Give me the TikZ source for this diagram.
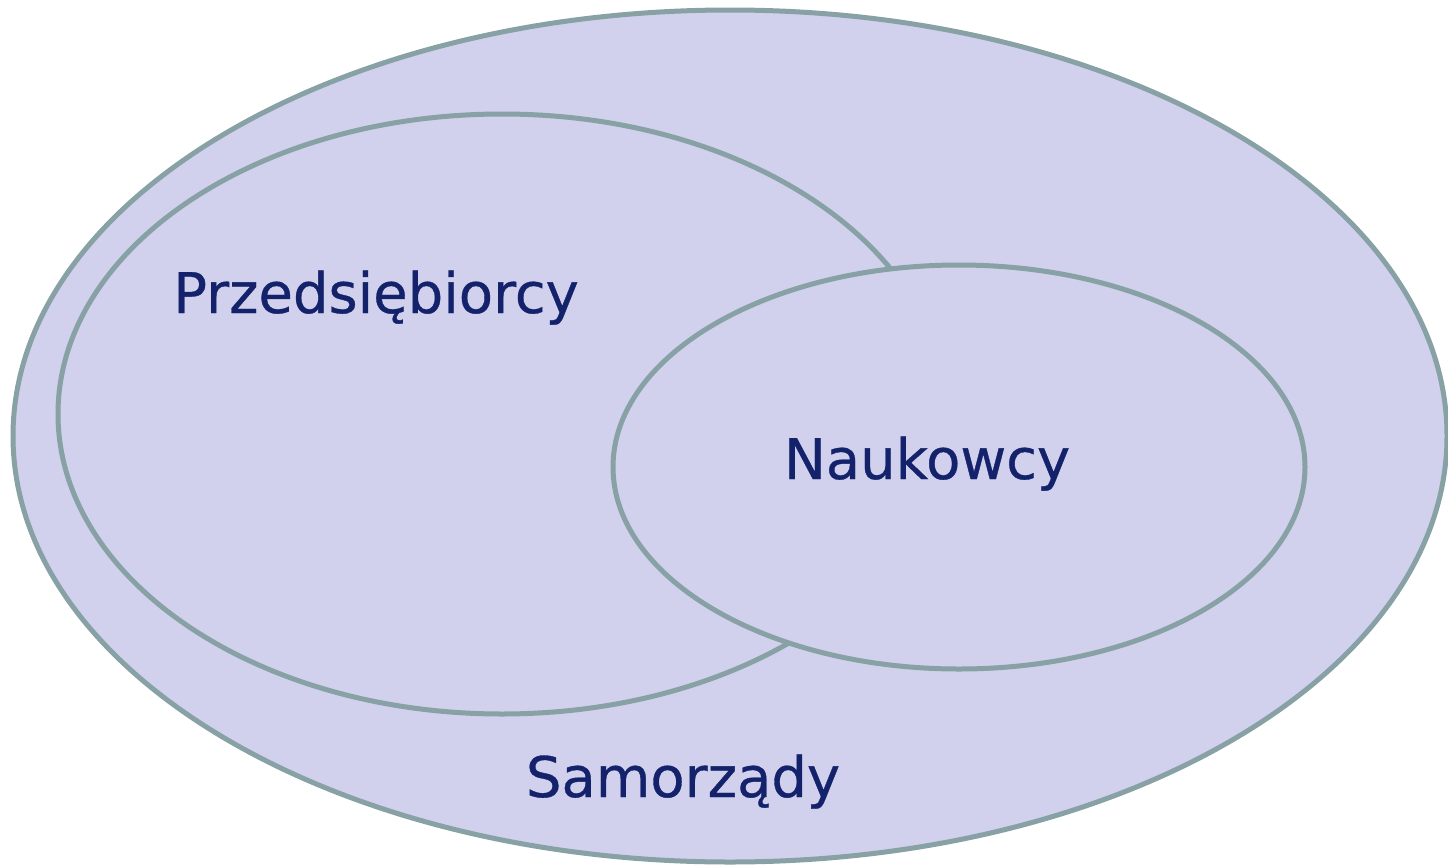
\documentclass[tikz,border=0pt]{standalone}
\usepackage{fontspec}
\setmainfont{DejaVu Sans}[FakeBold=0.6]
\usetikzlibrary{shapes.geometric}
\definecolor{fillc}{HTML}{D1D1EE}
\definecolor{linec}{HTML}{87A1A5}
\definecolor{textc}{HTML}{13226A}
\tikzset{
  setshape/.style={ellipse, draw=linec, fill=fillc, line width=5pt, inner sep=0pt, outer sep=0pt},
  lbl/.style={text=textc, font=\fontsize{56}{66}\selectfont, anchor=base, inner sep=0pt}
}
\begin{document}
\begin{tikzpicture}[x=1pt,y=-1pt]
\useasboundingbox (0,0) rectangle (1448,865);
\node[setshape, minimum width=1434pt, minimum height=852pt] (outer) at (730,436) {};
\node[setshape, minimum width=888pt, minimum height=600pt] (przed) at (502,414) {};
\node[setshape, minimum width=692pt, minimum height=404pt] (nauk) at (959,467) {};
\node[lbl] (tprzed) at (376,313) {Przedsiębiorcy};
\node[lbl] (tnauk) at (927,479) {Naukowcy};
\node[lbl] (tsam) at (683,797) {Samorządy};
\end{tikzpicture}
\end{document}
